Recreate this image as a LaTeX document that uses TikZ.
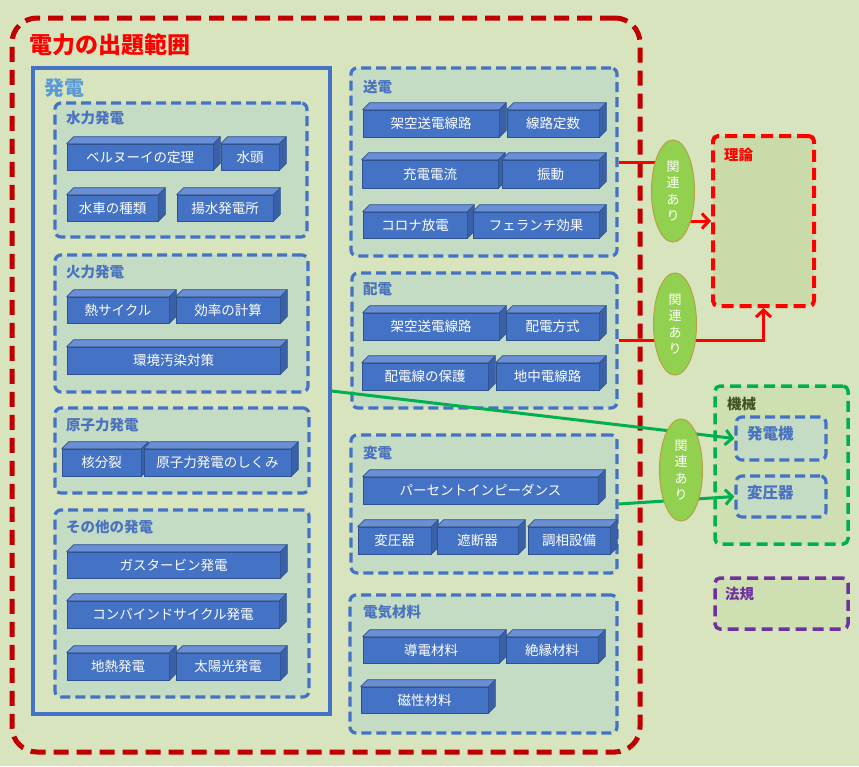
\documentclass[tikz,border=0pt]{standalone}
\usepackage{fontspec}
\setmainfont{Noto Sans CJK JP}
\usetikzlibrary{fit,arrows.meta,shapes.geometric}

\definecolor{pagebg}{HTML}{D7E4BD}
\definecolor{grpfill}{HTML}{C4DCC4}
\definecolor{grpblue}{HTML}{4472C4}
\definecolor{ttlblue}{HTML}{4A72BE}
\definecolor{ttllight}{HTML}{5B9BD5}
\definecolor{blkface}{HTML}{4472C4}
\definecolor{blktopc}{HTML}{6A8FD6}
\definecolor{blkside}{HTML}{3A60A8}
\definecolor{blkedge}{HTML}{2F528F}
\definecolor{darkred}{HTML}{C00000}
\definecolor{brightred}{HTML}{FF0000}
\definecolor{linkgreen}{HTML}{00B050}
\definecolor{ellfill}{HTML}{92D050}
\definecolor{elledge}{HTML}{B3A242}
\definecolor{mechttl}{HTML}{3F5320}
\definecolor{lawpurple}{HTML}{7030A0}
\definecolor{theoryfill}{HTML}{CADBA9}
\definecolor{mechfill}{HTML}{CEDFB1}

\pgfdeclarelayer{front}
\pgfsetlayers{main,front}

\tikzset{
  grp/.style={draw=grpblue, line width=3.2pt, dash pattern=on 10pt off 5pt,
    rounded corners=6pt, fill=grpfill, inner sep=0pt},
  grptitle/.style={anchor=west, inner sep=0pt, text=ttlblue,
    font=\bfseries\fontsize{14.5}{16}\selectfont},
  blk/.style={draw=blkedge, line width=0.6pt, fill=blkface, inner sep=0pt},
  blklabel/.style={inner sep=0pt, text=white, font=\fontsize{13.5}{15}\selectfont},
  blktop/.style={draw=blkedge, line width=0.6pt, fill=blktopc, line join=round},
  blkright/.style={draw=blkedge, line width=0.6pt, fill=blkside, line join=round},
  relell/.style={ellipse, draw=elledge, line width=1pt, fill=ellfill,
    minimum width=43pt, minimum height=102pt, inner sep=0pt, text=white,
    align=center, font=\fontsize{13}{16.5}\selectfont},
  redlink/.style={draw=brightred, line width=3pt},
  greenlink/.style={draw=linkgreen, line width=3pt},
  tip/.style={-{Straight Barb[length=7pt,width=15pt,line width=3pt]}},
}

% a raised block: front face as a node, its label, and its top and right faces
\newcommand\blkbox[6]{%
  \node[blk, fit={(#2,#3) (#4,#5)}] (#1) {};
  \node[blklabel] (#1txt) at (#1.center) {#6};
  \path[blktop] (#1.north west) -- ++(7,-7) -- ([shift={(7,-7)}]#1.north east)
    -- (#1.north east) -- cycle;
  \path[blkright] (#1.north east) -- ([shift={(7,-7)}]#1.north east)
    -- ([shift={(7,-7)}]#1.south east) -- (#1.south east) -- cycle;
}

\begin{document}
\begin{tikzpicture}[x=1pt,y=-1pt]
\fill[pagebg] (0,0) rectangle (859,766);
\useasboundingbox (0,0) rectangle (859,766);

% scope of the power exam
\node[draw=darkred, line width=5pt, dash pattern=on 15pt off 8pt,
  rounded corners=25pt, fit={(12,18) (640,752)}, inner sep=0pt] (power) {};
\node[anchor=west, inner sep=0pt, text=brightred,
  font=\bfseries\fontsize{23}{26}\selectfont] (powerttl) at (29,45) {電力の出題範囲};

% generation
\node[draw=grpblue, line width=3.2pt, fit={(33,68) (330,714)}, inner sep=0pt] (gen) {};
\node[anchor=west, inner sep=0pt, text=ttllight,
  font=\bfseries\fontsize{20}{22}\selectfont] (genttl) at (44,88) {発電};

\node[grp, fit={(55,103) (307,237)}] (hydro) {};
\node[grptitle] (hydrottl) at (66,118) {水力発電};
\blkbox{hyA}{67}{144}{213}{170}{ベルヌーイの定理}
\blkbox{hyB}{221}{144}{279}{170}{水頭}
\blkbox{hyC}{67}{195}{158}{221}{水車の種類}
\blkbox{hyD}{177}{195}{273}{221}{揚水発電所}

\node[grp, fit={(55,255) (308,392)}] (thermal) {};
\node[grptitle] (thermalttl) at (66,272) {火力発電};
\blkbox{thA}{67}{297}{169}{323}{熱サイクル}
\blkbox{thB}{176}{297}{280}{323}{効率の計算}
\blkbox{thC}{67}{347}{280}{374}{環境汚染対策}

\node[grp, fit={(55,408) (309,493)}] (nuclear) {};
\node[grptitle] (nuclearttl) at (66,425) {原子力発電};
\blkbox{nuA}{62}{449}{141}{476}{核分裂}
\blkbox{nuB}{144}{449}{291}{476}{原子力発電のしくみ}

\node[grp, fit={(55,510) (309,697)}] (other) {};
\node[grptitle] (otherttl) at (66,527) {その他の発電};
\blkbox{otA}{67}{552}{280}{578}{ガスタービン発電}
\blkbox{otB}{67}{601}{279}{628}{コンバインドサイクル発電}
\blkbox{otC}{67}{653}{169}{680}{地熱発電}
\blkbox{otD}{176}{653}{280}{680}{太陽光発電}

% transmission
\node[grp, fit={(351,68) (617,256)}] (trans) {};
\node[grptitle] (transttl) at (363,87) {送電};
\blkbox{trA}{363}{110}{499}{137}{架空送電線路}
\blkbox{trB}{507}{110}{599}{137}{線路定数}
\blkbox{trC}{362}{160}{498}{188}{充電電流}
\blkbox{trD}{502}{160}{599}{188}{振動}
\blkbox{trE}{363}{212}{467}{238}{コロナ放電}
\blkbox{trF}{473}{212}{599}{238}{フェランチ効果}

% distribution
\node[grp, fit={(352,273) (617,408)}] (dist) {};
\node[grptitle] (distttl) at (363,289) {配電};
\blkbox{diA}{363}{313}{499}{340}{架空送電線路}
\blkbox{diB}{506}{313}{599}{340}{配電方式}
\blkbox{diC}{362}{363}{488}{390}{配電線の保護}
\blkbox{diD}{496}{363}{599}{390}{地中電線路}

% substations
\node[grp, fit={(351,435) (617,573)}] (subst) {};
\node[grptitle] (substttl) at (363,453) {変電};
\blkbox{suA}{363}{477}{598}{504}{パーセントインピーダンス}
\blkbox{suB}{358}{527}{431}{554}{変圧器}
\blkbox{suC}{437}{527}{518}{554}{遮断器}
\blkbox{suD}{528}{527}{610}{554}{調相設備}

% materials
\node[grp, fit={(350,595) (617,733)}] (mater) {};
\node[grptitle] (materttl) at (363,612) {電気材料};
\blkbox{maA}{363}{637}{499}{663}{導電材料}
\blkbox{maB}{506}{637}{598}{663}{絶縁材料}
\blkbox{maC}{361}{687}{488}{713}{磁性材料}

% other subjects
\node[draw=brightred, line width=4pt, dash pattern=on 12pt off 6pt,
  rounded corners=5pt, fill=theoryfill, fit={(713,136) (814,306)}, inner sep=0pt] (theory) {};
\node[anchor=west, inner sep=0pt, text=brightred,
  font=\bfseries\fontsize{14.5}{16}\selectfont] (theoryttl) at (724,155) {理論};

\node[draw=linkgreen, line width=3.5pt, dash pattern=on 11pt off 6pt,
  rounded corners=5pt, fill=mechfill, fit={(715,386) (848,544)}, inner sep=0pt] (mech) {};
\node[anchor=west, inner sep=0pt, text=mechttl,
  font=\bfseries\fontsize{14.5}{16}\selectfont] (mechttl) at (727,404) {機械};
\node[grp, fit={(736,417) (826,460)}] (gener) {};
\node[grptitle, font=\bfseries\fontsize{15.5}{17}\selectfont] (generttl) at (747,434) {発電機};
\node[grp, fit={(736,476) (826,517)}] (transf) {};
\node[grptitle, font=\bfseries\fontsize{15.5}{17}\selectfont] (transfttl) at (747,493) {変圧器};

\node[draw=lawpurple, line width=3.5pt, dash pattern=on 11pt off 6pt,
  rounded corners=5pt, fill=mechfill, fit={(715,578) (848,629)}, inner sep=0pt] (law) {};
\node[anchor=west, inner sep=0pt, text=lawpurple,
  font=\bfseries\fontsize{14.5}{16}\selectfont] (lawttl) at (725,594) {法規};

% "related" markers
\begin{pgfonlayer}{front}
\node[relell] (relA) at (673,191) {関\\連\\あ\\り};
\node[relell] (relB) at (675,324) {関\\連\\あ\\り};
\node[relell] (relC) at (681,470) {関\\連\\あ\\り};
\end{pgfonlayer}

% links
\draw[redlink] (trans.east) -- (trans.east -| relA.center);
\draw[redlink, tip] (relA.center |- theory.west) -- (theory.west);
\draw[redlink, tip] (dist.east) -| (theory.south);
\draw[greenlink, tip] (gen.east) -- (gener.west);
\draw[greenlink, tip] (subst.east) -- (transf.west);
\end{tikzpicture}
\end{document}
